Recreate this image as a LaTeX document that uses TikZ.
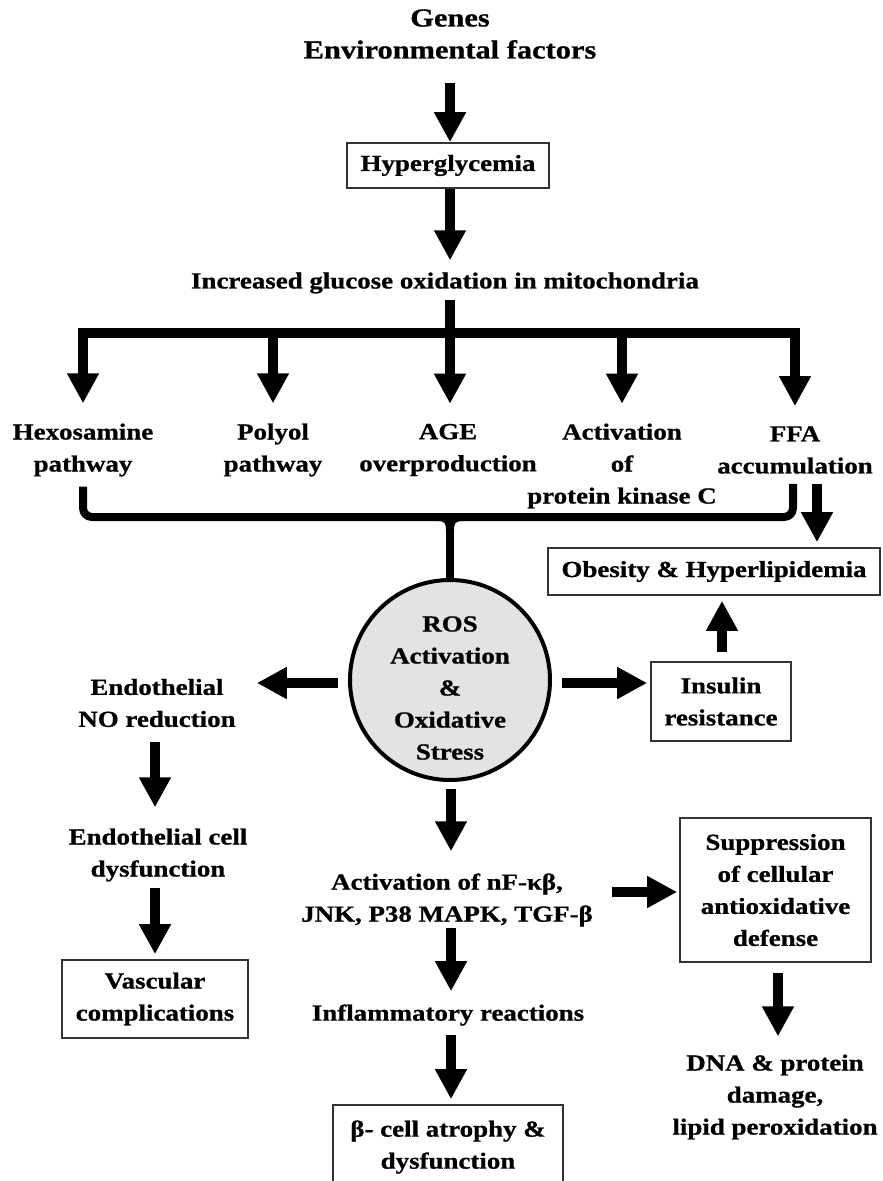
\documentclass[tikz,border=0pt]{standalone}
\usepackage{fontspec}
\setmainfont{Liberation Serif}[FakeStretch=1.17, BoldFeatures={FakeBold=0.8}]
\usetikzlibrary{arrows.meta,calc}
\begin{document}
\begin{tikzpicture}[x=1pt,y=-1pt,
  txt/.style={font=\fontsize{23}{32}\selectfont\bfseries, align=center, inner sep=0pt},
  box/.style={txt, draw=black!80, line width=1.6pt},
  fat/.style={line width=10pt, -{Triangle[width=30pt,length=30pt]}},
  bar/.style={line width=10pt},
  brk/.style={line width=8pt, rounded corners=9pt},
]
\fill[white] (0,0) rectangle (883,1181);
\useasboundingbox (0,0) rectangle (883,1181);

% ---------- nodes ----------
\node[txt, font=\fontsize{26}{32}\selectfont\bfseries] (genes) at (450,34) {Genes\\Environmental factors};
\node[box, minimum width=202pt, minimum height=45pt] (hyper) at (448,165.5) {Hyperglycemia};
\node[txt] (incr) at (445,283) {Increased glucose oxidation in mitochondria};

\node[txt] (hexo)   at (83,450)  {Hexosamine\\pathway};
\node[txt] (polyol) at (273,450) {Polyol\\pathway};
\node[txt] (age)    at (448,450) {AGE\\overproduction};
\node[txt] (pkc)    at (622,466) {Activation\\of\\protein kinase C};
\node[txt] (ffa)    at (795,450) {FFA\\accumulation};

\node[circle, draw=black, line width=4pt, fill=black!11, minimum size=200pt, inner sep=0pt] (ros) at (450,680) {};
\node[txt] (rostext) at (450,688) {ROS\\Activation\\\&\\Oxidative\\Stress};

\node[box, minimum width=332pt, minimum height=47pt] (obes) at (714,571.5) {Obesity \& Hyperlipidemia};
\node[box, minimum width=140pt, minimum height=79pt] (insul) at (721,701.5) {Insulin\\resistance};

\node[txt] (endo) at (157,703) {Endothelial\\NO reduction};
\node[txt] (ecd)  at (158,855) {Endothelial cell\\dysfunction};
\node[box, minimum width=186pt, minimum height=78pt] (vasc) at (155,999) {Vascular\\complications};

\node[txt] (act)  at (447,900) {Activation of nF-κβ,\\JNK, P38 MAPK, TGF-β};
\node[txt] (infl) at (448,1015) {Inflammatory reactions};
\node[box, minimum width=230pt, minimum height=84pt] (beta) at (448,1147) {β- cell atrophy \&\\dysfunction};

\node[box, minimum width=191pt, minimum height=144pt] (supp) at (775.5,890) {Suppression\\of cellular\\antioxidative\\defense};
\node[txt] (dna) at (775,1097) {DNA \& protein\\damage,\\lipid peroxidation};

% ---------- top chain ----------
\coordinate (fork) at (450,333);
\draw[fat] ($(genes.south)+(0,24)$) -- (genes.south |- hyper.north);
\draw[fat] (fork |- hyper.south) -- ($(fork |- incr.north)+(0,-12)$);

% ---------- fork into the five pathways ----------
\draw[bar] ($(fork |- incr.south)+(0,6)$) -- (fork);
\draw[fat] (fork) -| ($(hexo.north)+(0,-20)$);
\draw[fat] (fork) -| ($(ffa.north)+(0,-20)$);
\draw[fat] (fork -| polyol.north) -- ($(polyol.north)+(0,-20)$);
\draw[fat] (fork) -- ($(fork |- age.north)+(0,-20)$);
\draw[fat] (fork -| pkc.north) -- ($(pkc.north |- age.north)+(0,-20)$);

% ---------- bracket gathering into ROS ----------
\coordinate (join) at ($(ros.north)+(0,-61)$);
\draw[brk] ($(hexo.south)+(0,10)$) |- (join) -| ($(ffa.south)+(-2,10)$);
\draw[line width=8pt] (join) -- (ros.north);
\fill ($(join)+(-13,4)$) .. controls ($(join)+(-5,4)$) and ($(join)+(-4,6)$) .. ($(join)+(-4,14)$)
   -- ($(join)+(4,14)$) .. controls ($(join)+(4,6)$) and ($(join)+(5,4)$) .. ($(join)+(13,4)$) -- cycle;

% ---------- right side ----------
\draw[fat] ($(ffa.south)+(22,10)$) -- ($(ffa.south |- obes.north)+(22,-5)$);
\draw[fat] ($(insul.north)+(1,-9)$) -- ($(insul.north |- obes.south)+(1,5)$);
\draw[fat] ($(ros.east)+(10,3)$) -- ($(insul.west |- ros.east)+(-3,3)$);

% ---------- left side ----------
\draw[fat] ($(ros.west)+(-10,3)$) -- ($(endo.east |- ros.west)+(21,3)$);
\draw[fat] ($(endo.south)+(-2,15)$) -- ($(endo.south |- ecd.north)+(-2,-21)$);
\draw[fat] ($(endo.south |- ecd.south)+(-2,6)$) -- ($(endo.south |- vasc.north)+(-2,-5)$);

% ---------- centre column ----------
\draw[fat] ($(ros.south)+(1,7)$) -- ($(ros.south |- act.north)+(1,-22)$);
\draw[fat] ($(ros.south |- act.south)+(1,1)$) -- ($(ros.south |- infl.north)+(1,-13)$);
\draw[fat] ($(ros.south |- infl.south)+(1,9)$) -- ($(ros.south |- beta.north)+(1,-5)$);

% ---------- suppression branch ----------
\draw[fat] ($(act.east)+(19,-8)$) -- ($(supp.west |- act.east)+(-2,-8)$);
\draw[fat] ($(supp.south)+(2.5,10)$) -- ($(supp.south |- dna.north)+(2.5,-18)$);
\end{tikzpicture}
\end{document}
